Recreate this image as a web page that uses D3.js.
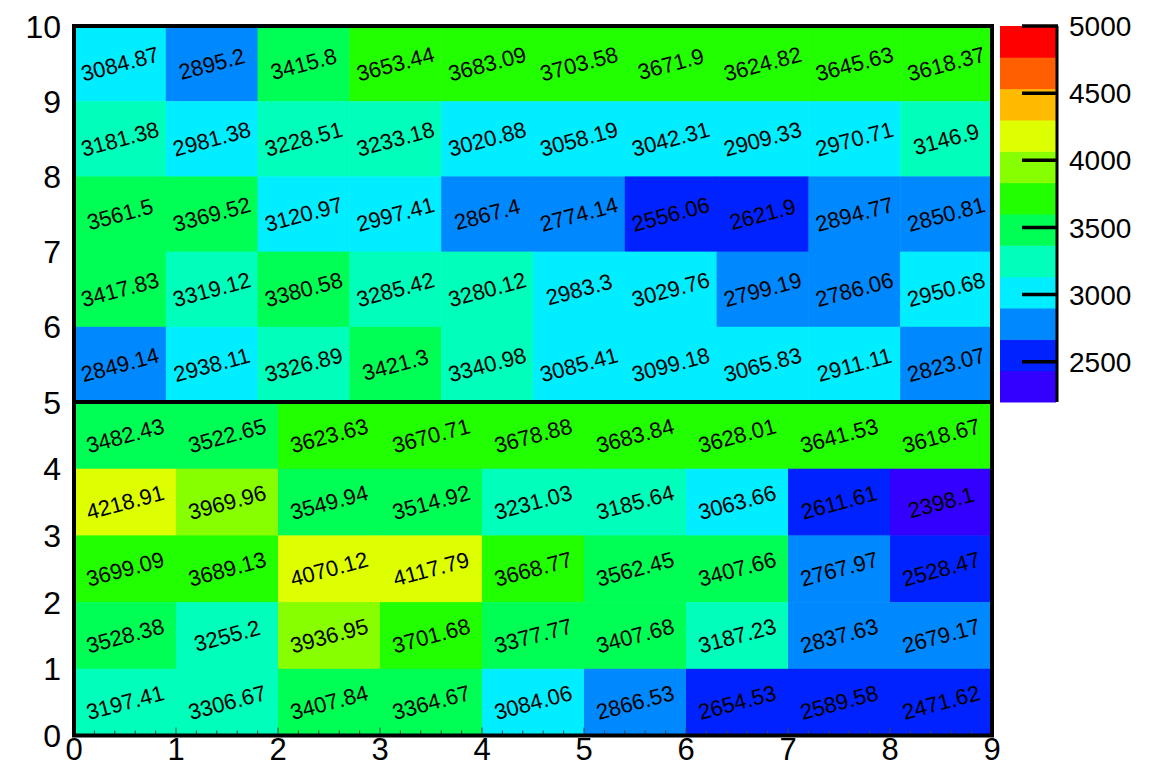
<!DOCTYPE html>
<html>
<head>
<meta charset="utf-8">
<script src="https://cdn.jsdelivr.net/npm/d3@7"></script>
<style>
  body { margin: 0; background: #fff; }
  svg { display: block; font-family: "Liberation Sans", Arial, Helvetica, sans-serif; }
</style>
</head>
<body>
<svg id="chart" width="1159" height="768"></svg>
<script>
// upper histogram: 10 bins in x, y bins listed top row first
const upperY = [9, 8, 7, 6, 5];
const upperValues = [
  [3084.87, 2895.2, 3415.8, 3653.44, 3683.09, 3703.58, 3671.9, 3624.82, 3645.63, 3618.37],
  [3181.38, 2981.38, 3228.51, 3233.18, 3020.88, 3058.19, 3042.31, 2909.33, 2970.71, 3146.9],
  [3561.5, 3369.52, 3120.97, 2997.41, 2867.4, 2774.14, 2556.06, 2621.9, 2894.77, 2850.81],
  [3417.83, 3319.12, 3380.58, 3285.42, 3280.12, 2983.3, 3029.76, 2799.19, 2786.06, 2950.68],
  [2849.14, 2938.11, 3326.89, 3421.3, 3340.98, 3085.41, 3099.18, 3065.83, 2911.11, 2823.07],
];

// lower histogram: 9 bins in x
const lowerY = [4, 3, 2, 1, 0];
const lowerValues = [
  [3482.43, 3522.65, 3623.63, 3670.71, 3678.88, 3683.84, 3628.01, 3641.53, 3618.67],
  [4218.91, 3969.96, 3549.94, 3514.92, 3231.03, 3185.64, 3063.66, 2611.61, 2398.1],
  [3699.09, 3689.13, 4070.12, 4117.79, 3668.77, 3562.45, 3407.66, 2767.97, 2528.47],
  [3528.38, 3255.2, 3936.95, 3701.68, 3377.77, 3407.68, 3187.23, 2837.63, 2679.17],
  [3197.41, 3306.67, 3407.84, 3364.67, 3084.06, 2866.53, 2654.53, 2589.58, 2471.62],
];

const zMin = 2200;
const zMax = 5000;
const paletteColors = [
  "#3300ff", "#0022ff", "#0088ff", "#00eeff", "#00ffbb", "#00ff55",
  "#22ff00", "#88ff00", "#ddff00", "#ffbb00", "#ff5f00", "#ff0000",
];
const paletteTicks = [2500, 3000, 3500, 4000, 4500, 5000];
const yTicksUpper = [6, 7, 8, 9, 10];
const yTicksLower = [0, 1, 2, 3, 4, 5];
const xTicks = [0, 1, 2, 3, 4, 5, 6, 7, 8, 9];

const frameLeft = 74, frameRight = 992, frameTop = 26, frameMid = 402, frameBottom = 735.5;

const svg = d3.select("#chart");

const xUpper = d3.scaleLinear().domain([0, 10]).range([frameLeft, frameRight]);
const xLower = d3.scaleLinear().domain([0, 9]).range([frameLeft, frameRight]);
const yUpper = d3.scaleLinear().domain([5, 10]).range([frameMid, frameTop]);
const yLower = d3.scaleLinear().domain([0, 5]).range([frameBottom, frameMid]);

// ROOT picks the level with a small 0.01 offset
const step = (zMax - zMin) / paletteColors.length;
const color = d3
  .scaleQuantize()
  .domain([zMin - 0.01 * step, zMax - 0.01 * step])
  .range(paletteColors);

function cellsFor(values, ys) {
  const out = [];
  values.forEach((row, r) => {
    row.forEach((v, i) => out.push({ i, y: ys[r], v }));
  });
  return out;
}

function drawHist(cells, x, y, cls) {
  const g = svg.append("g").attr("class", cls);

  g.selectAll("rect")
    .data(cells)
    .enter()
    .append("rect")
    .attr("x", (d) => x(d.i))
    .attr("y", (d) => y(d.y + 1))
    .attr("width", (d) => x(d.i + 1) - x(d.i) + 0.5)
    .attr("height", (d) => y(d.y) - y(d.y + 1) + 0.5)
    .attr("fill", (d) => color(d.v));

  g.selectAll("text")
    .data(cells)
    .enter()
    .append("text")
    .attr(
      "transform",
      (d) =>
        `translate(${(x(d.i) + x(d.i + 1)) / 2},${(y(d.y) + y(d.y + 1)) / 2}) rotate(-15)`
    )
    .attr("text-anchor", "middle")
    .attr("dy", "0.36em")
    .attr("font-size", "22px")
    .attr("fill", "#000")
    .text((d) => d.v);
}

drawHist(cellsFor(upperValues, upperY), xUpper, yUpper, "upper");
drawHist(cellsFor(lowerValues, lowerY), xLower, yLower, "lower");

// minor ticks along the bottom axis
const minorTicks = d3.range(0, 9.001, 0.2);
svg
  .append("g")
  .selectAll("line")
  .data(minorTicks)
  .enter()
  .append("line")
  .attr("x1", (d) => xLower(d))
  .attr("x2", (d) => xLower(d))
  .attr("y1", frameBottom)
  .attr("y2", (d) => frameBottom - (Math.abs(d - Math.round(d)) < 1e-6 ? 8 : 5))
  .attr("stroke", "#444")
  .attr("stroke-width", 1);

// frames
[[frameTop, frameMid], [frameMid, frameBottom]].forEach(([y0, y1]) => {
  svg
    .append("rect")
    .attr("x", frameLeft)
    .attr("y", y0)
    .attr("width", frameRight - frameLeft)
    .attr("height", y1 - y0)
    .attr("fill", "none")
    .attr("stroke", "#000")
    .attr("stroke-width", 4);
});

// y labels
const yLab = svg.append("g").attr("font-size", "32px").attr("text-anchor", "end");
yLab
  .selectAll("text.up")
  .data(yTicksUpper)
  .enter()
  .append("text")
  .attr("class", "up")
  .attr("x", 61)
  .attr("y", (d) => yUpper(d))
  .attr("dy", "0.36em")
  .text((d) => d);
yLab
  .selectAll("text.low")
  .data(yTicksLower)
  .enter()
  .append("text")
  .attr("class", "low")
  .attr("x", 61)
  .attr("y", (d) => yLower(d))
  .attr("dy", "0.36em")
  .text((d) => d);

// x labels
svg
  .append("g")
  .attr("font-size", "31px")
  .attr("text-anchor", "middle")
  .selectAll("text")
  .data(xTicks)
  .enter()
  .append("text")
  .attr("x", (d) => xLower(d))
  .attr("y", 760)
  .text((d) => d);

// palette
const zScale = d3.scaleLinear().domain([zMin, zMax]).range([frameMid, frameTop]);
const pal = svg.append("g");
pal
  .selectAll("rect")
  .data(paletteColors)
  .enter()
  .append("rect")
  .attr("x", 1000)
  .attr("y", (d, i) => zScale(zMin + (i + 1) * step))
  .attr("width", 56)
  .attr("height", (d, i) => zScale(zMin + i * step) - zScale(zMin + (i + 1) * step) + 0.5)
  .attr("fill", (d) => d);

pal
  .append("line")
  .attr("x1", 1057)
  .attr("x2", 1057)
  .attr("y1", frameTop)
  .attr("y2", frameMid)
  .attr("stroke", "#000")
  .attr("stroke-width", 3);

pal
  .selectAll("line.tick")
  .data(paletteTicks)
  .enter()
  .append("line")
  .attr("class", "tick")
  .attr("x1", 1022)
  .attr("x2", 1058)
  .attr("y1", (d) => zScale(d))
  .attr("y2", (d) => zScale(d))
  .attr("stroke", "#000")
  .attr("stroke-width", 3.5);

pal
  .selectAll("text")
  .data(paletteTicks)
  .enter()
  .append("text")
  .attr("x", 1069)
  .attr("y", (d) => zScale(d))
  .attr("dy", "0.36em")
  .attr("font-size", "28px")
  .text((d) => d);
</script>
</body>
</html>
